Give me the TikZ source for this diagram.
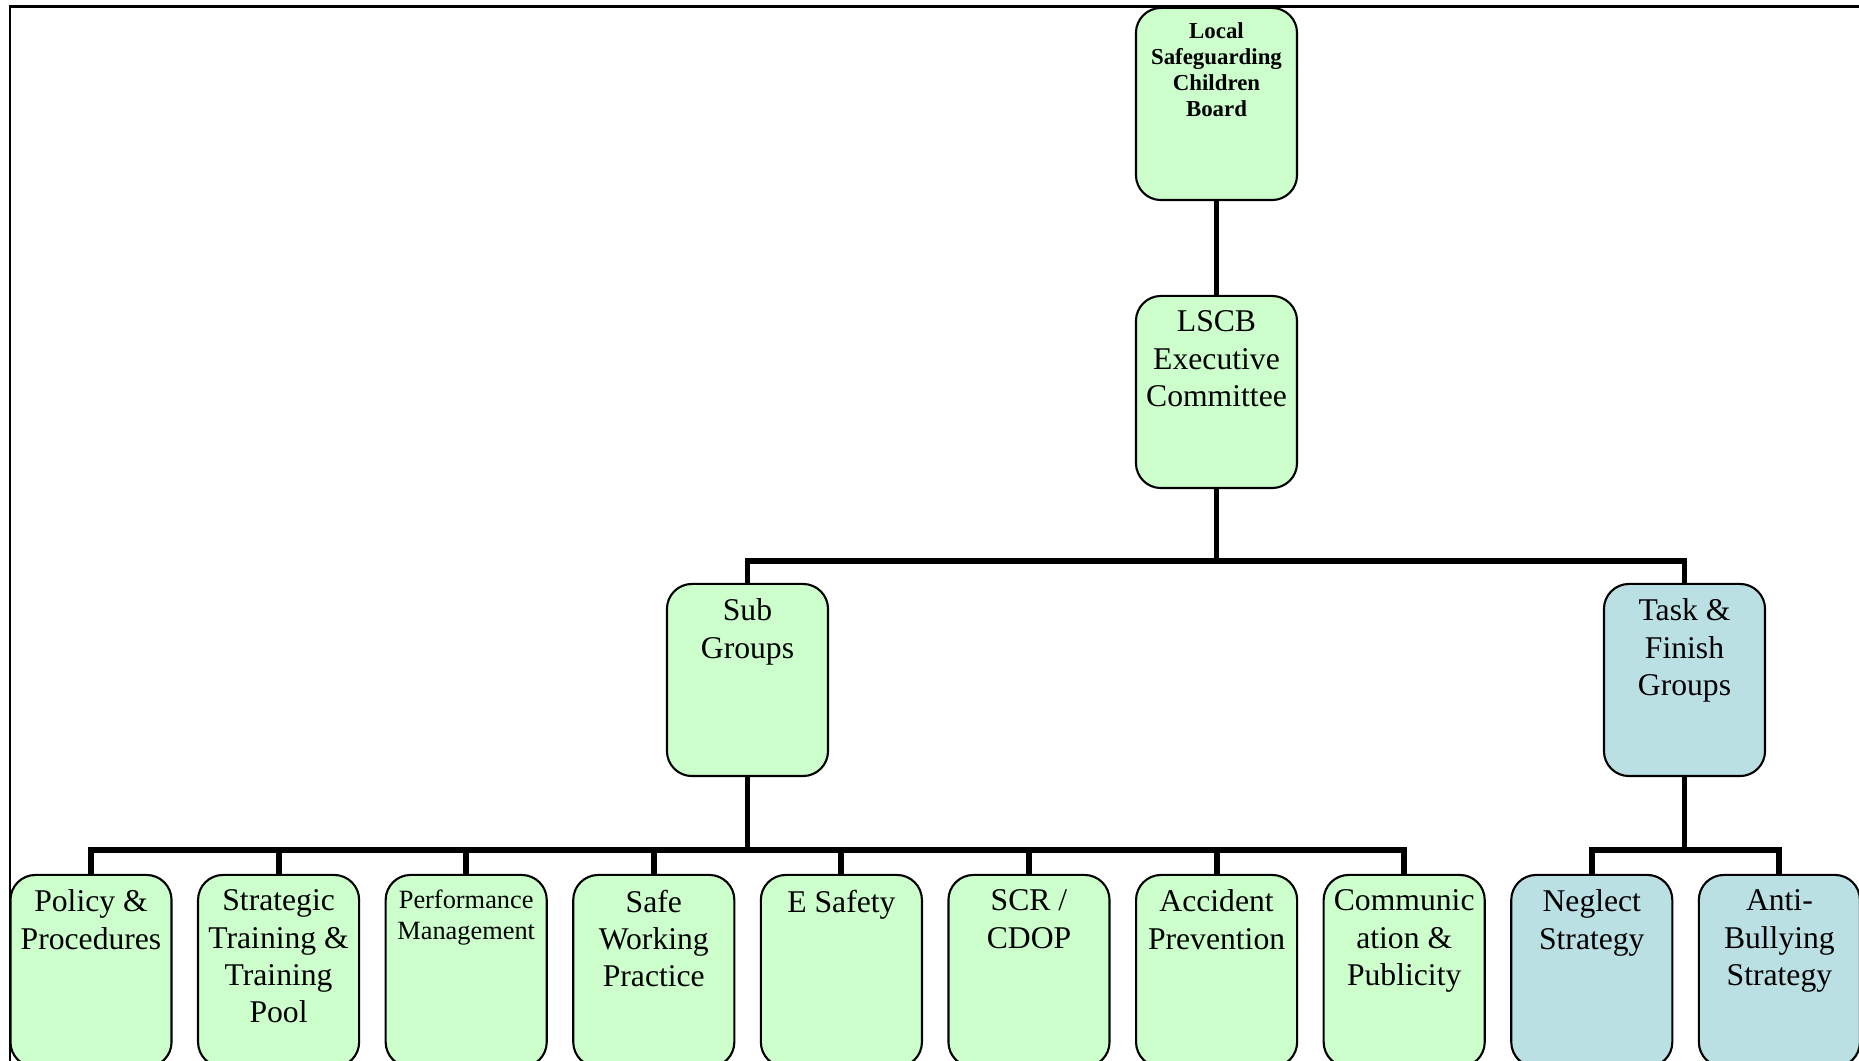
\documentclass[tikz,border=0pt]{standalone}
\usepackage{fontspec}
\setmainfont{Liberation Serif}
\definecolor{groupgreen}{RGB}{204,255,204}
\definecolor{taskblue}{RGB}{187,224,227}

\begin{document}
\begin{tikzpicture}[
        x=0.01cm, y=-0.01cm,
        font=\fontsize{9}{10.6}\selectfont,
        groupbox/.style={draw, line width=0.6pt, rounded corners=0.25cm, fill=groupgreen,
            minimum width=1.61cm, minimum height=1.92cm, inner xsep=0.03cm, inner ysep=0.15cm,
            execute at begin node={\begin{minipage}[c][1.62cm][t]{1.55cm}\centering},
            execute at end node={\end{minipage}}},
        taskbox/.style={groupbox, fill=taskblue},
        branch/.style={line width=1.7pt}
    ]
        \useasboundingbox (0,0) rectangle (1859,1061);
        \clip (0,0) rectangle (1859,1061);
        \draw[line width=0.85pt] (10,7) rectangle (1890,1090);

        \node[groupbox, font=\fontsize{6.5}{7.4}\selectfont\bfseries]
            (board) at (1216.5,104) {Local\\Safeguarding\\Children\\Board};
        \node[groupbox] (exec) at (1216.5,392) {LSCB\\Executive\\Committee};

        \node[groupbox] (subgroups) at (747.5,680) {Sub\\Groups};
        \node[taskbox] (taskfinish) at (1684.5,680) {Task \&\\Finish\\Groups};

        \node[groupbox] (policy) at (91,971) {Policy \&\\Procedures};
        \node[groupbox] (training) at (278.6,971) {Strategic\\Training \&\\Training\\Pool};
        \node[groupbox, font=\fontsize{7.5}{8.7}\selectfont]
            (performance) at (466.2,971) {Performance\\Management};
        \node[groupbox] (safework) at (653.8,971) {Safe\\Working\\Practice};
        \node[groupbox] (esafety) at (841.4,971) {E Safety};
        \node[groupbox] (scr) at (1029,971) {SCR /\\CDOP};
        \node[groupbox] (accident) at (1216.6,971) {Accident\\Prevention};
        \node[groupbox] (comms) at (1404.2,971) {Communic\\ation \&\\Publicity};
        \node[taskbox] (neglect) at (1591.8,971) {Neglect\\Strategy};
        \node[taskbox] (antibullying) at (1779.4,971) {Anti-\\Bullying\\Strategy};

        \coordinate (execbar) at (1216.5,561);
        \coordinate (subbar) at (747.5,850);
        \coordinate (taskbar) at (1684.5,850);

        \draw[branch] (board) -- (exec);
        \draw[branch] (exec.south) -- (execbar) -| (subgroups.north);
        \draw[branch] (execbar) -| (taskfinish.north);

        \draw[branch] (subgroups.south) -- (subbar);
        \draw[branch] (subbar) -| (policy.north);
        \draw[branch] (subbar) -| (training.north);
        \draw[branch] (subbar) -| (performance.north);
        \draw[branch] (subbar) -| (safework.north);
        \draw[branch] (subbar) -| (esafety.north);
        \draw[branch] (subbar) -| (scr.north);
        \draw[branch] (subbar) -| (accident.north);
        \draw[branch] (subbar) -| (comms.north);

        \draw[branch] (taskfinish.south) -- (taskbar);
        \draw[branch] (taskbar) -| (neglect.north);
        \draw[branch] (taskbar) -| (antibullying.north);
    \end{tikzpicture}
\end{document}
